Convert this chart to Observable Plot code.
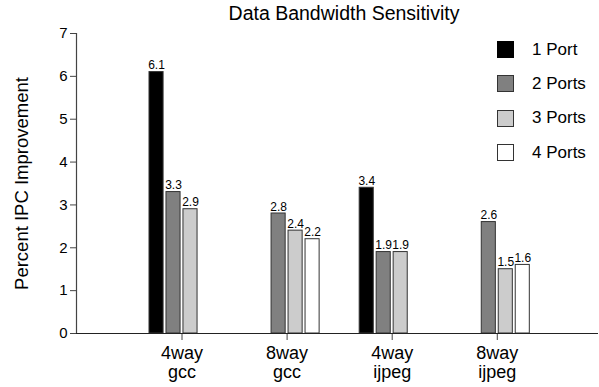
<!DOCTYPE html>
<html>
<head>
<meta charset="utf-8">
<script src="https://cdn.jsdelivr.net/npm/d3@7"></script>
<script src="https://cdn.jsdelivr.net/npm/@observablehq/plot@0.6"></script>
<style>
  body { margin: 0; background: #fff; font-family: "Liberation Sans", Arial, sans-serif; }
  #wrap { position: relative; width: 599px; height: 387px; }
  #title { height: 20px; padding-top: 3px; line-height: 20px; font-size: 19.5px; text-align: center; padding-left: 89px; box-sizing: content-box; width: 510px; color: #000; white-space: nowrap; }
  #chart { height: 364px; }
  #legend { position: absolute; left: 497px; top: 41px; }
  .row { display: flex; align-items: center; height: 17px; margin-bottom: 17.4px; font-size: 17px; }
  .sw { width: 15px; height: 15px; border: 1px solid #333; margin-right: 18px; }
</style>
</head>
<body>
<div id="wrap">
  <div id="title">Data Bandwidth Sensitivity</div>
  <div id="chart"></div>
  <div id="legend"></div>
</div>
<script>
const groups = ["4way\ngcc", "8way\ngcc", "4way\nijpeg", "8way\nijpeg"];
const ports = ["1 Port", "2 Ports", "3 Ports", "4 Ports"];
const port1 = [6.1, null, 3.4, null];
const port2 = [3.3, 2.8, 1.9, 2.6];
const port3 = [2.9, 2.4, 1.9, 1.5];
const port4 = [null, 2.2, null, 1.6];
const colors = ["#000000", "#808080", "#cccccc", "#ffffff"];
const yTicks = [0, 1, 2, 3, 4, 5, 6, 7];

const series = [port1, port2, port3, port4];
const barStep = 0.1616, barHalf = 0.067;
const data = [];
series.forEach((vals, pi) => {
  vals.forEach((v, gi) => {
    if (v == null) return;
    const c = gi + (pi - 1.5) * barStep;
    data.push({group: gi, port: ports[pi], value: v, x1: c - barHalf, x2: c + barHalf, xc: c});
  });
});

const xDomain = [-1.004, 3.963];
const chart = Plot.plot({
  width: 599,
  height: 364,
  marginTop: 10,
  marginBottom: 54,
  marginLeft: 76,
  marginRight: 1,
  style: {fontFamily: '"Liberation Sans", Arial, sans-serif', fontSize: "18.5px", color: "#000", background: "#fff"},
  x: {type: "linear", domain: xDomain},
  y: {domain: [0, 7]},
  color: {type: "ordinal", domain: ports, range: colors},
  marks: [
    Plot.axisY({ticks: yTicks, tickSize: 6, tickPadding: 3, fontSize: 15, tickFormat: d => String(d),
      label: null, stroke: "#444"}),
    Plot.axisY({ticks: [], tickSize: 0, label: "Percent IPC Improvement", labelAnchor: "center",
      labelArrow: "none", labelOffset: 62, fontSize: 18.5}),
    Plot.axisX({ticks: [0, 1, 2, 3], tickSize: 7, tickPadding: 5, fontSize: 18, lineHeight: 1.06,
      tickFormat: i => groups[i], label: null, stroke: "#444"}),
    Plot.rectY(data, {x1: "x1", x2: "x2", y1: 0, y2: "value", fill: "port", stroke: "#333", strokeWidth: 1}),
    Plot.text(data, {x: "xc", y: "value", text: d => d.value.toFixed(1), lineAnchor: "bottom", dy: -3, fontSize: 12, fill: "#000"}),
    Plot.ruleY([0], {stroke: "#222", strokeWidth: 1.2}),
    Plot.ruleX([xDomain[0]], {y1: 0, y2: 7, stroke: "#444", strokeWidth: 1.2})
  ]
});
document.getElementById("chart").appendChild(chart);

const legend = document.getElementById("legend");
ports.forEach((p, i) => {
  const row = document.createElement("div");
  row.className = "row";
  const sw = document.createElement("div");
  sw.className = "sw";
  sw.style.background = colors[i];
  if (i === 0) sw.style.borderColor = "#000";
  const t = document.createElement("span");
  t.textContent = p;
  row.appendChild(sw);
  row.appendChild(t);
  legend.appendChild(row);
});
</script>
</body>
</html>
